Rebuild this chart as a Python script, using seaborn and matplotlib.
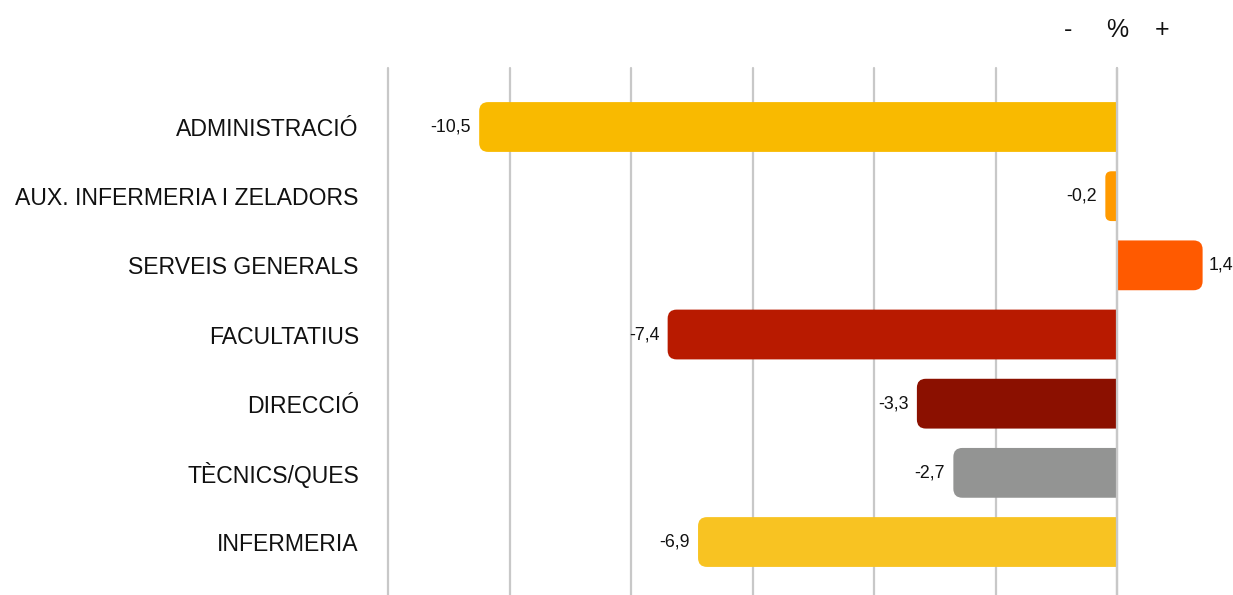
import matplotlib
matplotlib.use("Agg")
import matplotlib.pyplot as plt
import seaborn as sns
from matplotlib.patches import FancyBboxPatch, Rectangle

categories = ["ADMINISTRACIÓ", "AUX. INFERMERIA I ZELADORS", "SERVEIS GENERALS",
              "FACULTATIUS", "DIRECCIÓ", "TÈCNICS/QUES", "INFERMERIA"]
values = [-10.5, -0.2, 1.4, -7.4, -3.3, -2.7, -6.9]
labels = ["-10,5", "-0,2", "1,4", "-7,4", "-3,3", "-2,7", "-6,9"]
colors = ["#F9BA00", "#FF9A00", "#FF5A00", "#B81A00", "#8B1000", "#939493", "#F8C322"]
xticks = [-12, -10, -8, -6, -4, -2, 0]

sns.set_theme(style="white")
plt.rcParams["font.family"] = ["Liberation Sans", "DejaVu Sans"]

W, H = 1233, 595
fig = plt.figure(figsize=(W / 100, H / 100), dpi=100)
ax = fig.add_axes([388 / W, 0, (W - 388) / W, 1 - 68 / H])

sns.barplot(x=values, y=categories, hue=categories, palette=colors, orient="h",
            width=0.72, saturation=1, legend=False, ax=ax, zorder=3)

XMIN, XMAX = -12, 1.9
YMAX, YMIN = 6.766, -0.853
ax.set_xlim(XMIN, XMAX)
ax.set_ylim(YMAX, YMIN)
ax.set_xticks(xticks)
ax.xaxis.grid(True, color="#C8C8C8", linewidth=1.6, zorder=0)
for gl in ax.get_xgridlines():
    gl.set_clip_on(False)
ax.yaxis.grid(False)
ax.set_axisbelow(True)
# zero reference line drawn above the bars
ax.axvline(0, color="#C8C8C8", linewidth=1.6, zorder=5, clip_on=False)
for s in ax.spines.values():
    s.set_visible(False)
ax.tick_params(axis="x", bottom=False, labelbottom=False)
ax.tick_params(axis="y", left=False, pad=15, labelsize=16.6, labelcolor="#111111")
ax.set_xlabel("")
ax.set_ylabel("")

# convert bars into bars with rounded outer end (square at zero)
px_x = (W - 388) / (XMAX - XMIN)
px_y = (H - 68) / (YMAX - YMIN)
r_px = 9
bars = [p for p in ax.patches]
for p, lab in zip(bars, labels):
    x0, y0, w, h = p.get_x(), p.get_y(), p.get_width(), p.get_height()
    fc = p.get_facecolor()
    p.set_visible(False)
    left, right = min(x0, x0 + w), max(x0, x0 + w)
    width = right - left
    r = min(r_px / px_x, width / 2)
    ext = 3 * r
    val = x0 + w if x0 == 0 else x0
    if val < 0:
        patch = FancyBboxPatch((left, y0), width + ext, h,
                               boxstyle=f"round,pad=0,rounding_size={r}",
                               mutation_aspect=px_x / px_y,
                               facecolor=fc, edgecolor="none", zorder=3)
        clip = Rectangle((XMIN - 5, YMIN - 5), 0 - (XMIN - 5), (YMAX - YMIN) + 10,
                         transform=ax.transData)
        ax.add_patch(patch)
        patch.set_clip_path(clip)
        ax.annotate(lab, (left, y0 + h / 2), xytext=(-6, 0), textcoords="offset points",
                    ha="right", va="center", fontsize=12.8, color="#111111")
    else:
        patch = FancyBboxPatch((left - ext, y0), width + ext, h,
                               boxstyle=f"round,pad=0,rounding_size={r}",
                               mutation_aspect=px_x / px_y,
                               facecolor=fc, edgecolor="none", zorder=3)
        clip = Rectangle((0, YMIN - 5), XMAX + 5, (YMAX - YMIN) + 10,
                         transform=ax.transData)
        ax.add_patch(patch)
        patch.set_clip_path(clip)
        ax.annotate(lab, (right, y0 + h / 2), xytext=(4, 0), textcoords="offset points",
                    ha="left", va="center", fontsize=12.8, color="#111111",
                    annotation_clip=False)

for t, xp in zip(["-", "%", "+"], [1068, 1117, 1162]):
    fig.text(xp / W, 1 - 30 / H, t, ha="center", va="center", fontsize=18, color="#111111")

fig.savefig("out.png", dpi=100)
